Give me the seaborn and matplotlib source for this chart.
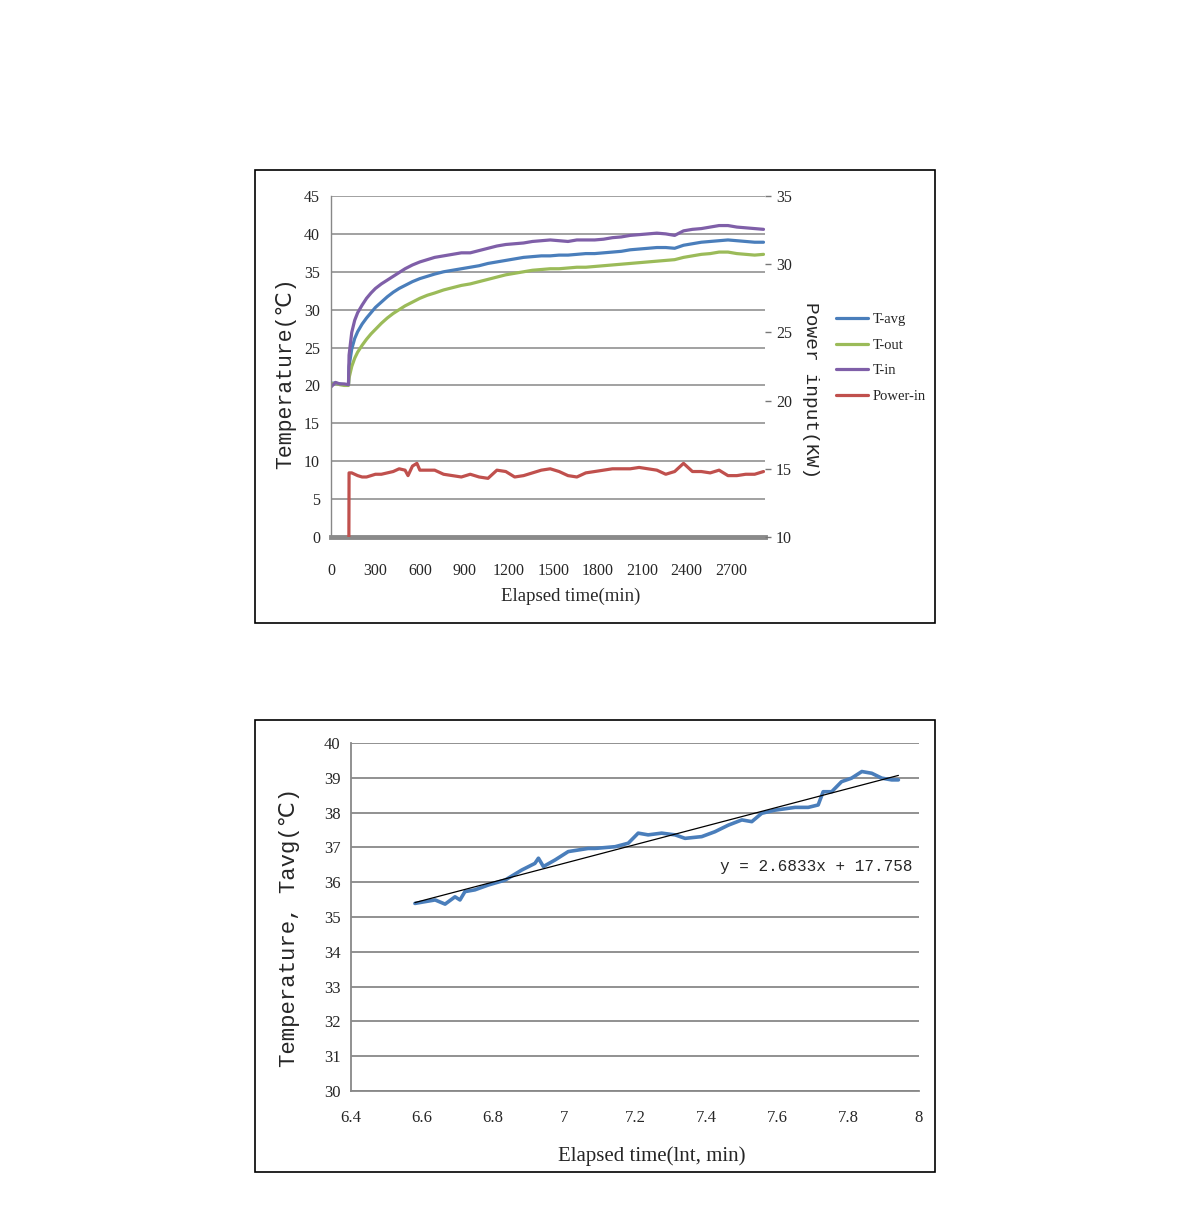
import numpy as np
import pandas as pd
import seaborn as sns
import matplotlib.pyplot as plt
from matplotlib.patches import Rectangle
from matplotlib.lines import Line2D

sns.set_style("white")
plt.rcParams['font.family'] = ['Liberation Serif', 'DejaVu Sans']

# ---- data: top chart (elapsed time, min) ----
time_min = [0, 30, 60, 90, 118, 122, 140, 160, 180, 210, 240, 270, 300, 340, 380, 420, 460, 500,
            550, 600, 650, 700, 760, 820, 880, 940, 1000, 1060, 1120, 1180, 1240, 1300, 1360, 1420,
            1480, 1540, 1600, 1660, 1720, 1780, 1840, 1900, 1960, 2020, 2080, 2140, 2200, 2260, 2320,
            2380, 2440, 2500, 2560, 2620, 2680, 2740, 2800, 2860, 2920]
t_avg = [20.3, 20.3, 20.2, 20.1, 20.1, 22.5, 24.8, 26.2, 27.1, 28.1, 28.9, 29.6, 30.3, 31.0, 31.7,
         32.3, 32.8, 33.2, 33.7, 34.1, 34.4, 34.7, 35.0, 35.2, 35.4, 35.6, 35.8, 36.1, 36.3, 36.5,
         36.7, 36.9, 37.0, 37.1, 37.1, 37.2, 37.2, 37.3, 37.4, 37.4, 37.5, 37.6, 37.7, 37.9, 38.0,
         38.1, 38.2, 38.2, 38.1, 38.5, 38.7, 38.9, 39.0, 39.1, 39.2, 39.1, 39.0, 38.9, 38.9]
t_out = [20.2, 20.3, 20.1, 20.0, 20.0, 21.0, 22.5, 23.6, 24.4, 25.3, 26.1, 26.8, 27.4, 28.2, 28.9,
         29.5, 30.0, 30.5, 31.0, 31.5, 31.9, 32.2, 32.6, 32.9, 33.2, 33.4, 33.7, 34.0, 34.3, 34.6,
         34.8, 35.0, 35.2, 35.3, 35.4, 35.4, 35.5, 35.6, 35.6, 35.7, 35.8, 35.9, 36.0, 36.1, 36.2,
         36.3, 36.4, 36.5, 36.6, 36.9, 37.1, 37.3, 37.4, 37.6, 37.6, 37.4, 37.3, 37.2, 37.3]
t_in = [19.8, 20.4, 20.2, 20.2, 20.1, 24.0, 27.0, 28.6, 29.6, 30.6, 31.5, 32.2, 32.8, 33.4, 33.9,
        34.4, 34.9, 35.4, 35.9, 36.3, 36.6, 36.9, 37.1, 37.3, 37.5, 37.5, 37.8, 38.1, 38.4, 38.6,
        38.7, 38.8, 39.0, 39.1, 39.2, 39.1, 39.0, 39.2, 39.2, 39.2, 39.3, 39.5, 39.6, 39.8, 39.9,
        40.0, 40.1, 40.0, 39.8, 40.4, 40.6, 40.7, 40.9, 41.1, 41.1, 40.9, 40.8, 40.7, 40.6]

time_power = [0, 30, 60, 90, 118, 122, 140, 160, 180, 210, 240, 270, 300, 340, 380, 420, 460, 500,
              520, 550, 580, 600, 650, 700, 760, 820, 880, 940, 1000, 1060, 1120, 1180, 1240, 1300,
              1360, 1420, 1480, 1540, 1600, 1660, 1720, 1780, 1840, 1900, 1960, 2020, 2080, 2140,
              2200, 2260, 2320, 2380, 2440, 2500, 2560, 2620, 2680, 2740, 2800, 2860, 2920]
power_in = [0, 0, 0, 0, 0, 14.7, 14.7, 14.6, 14.5, 14.4, 14.4, 14.5, 14.6, 14.6, 14.7, 14.8, 15.0,
            14.9, 14.5, 15.2, 15.4, 14.9, 14.9, 14.9, 14.6, 14.5, 14.4, 14.6, 14.4, 14.3, 14.9, 14.8,
            14.4, 14.5, 14.7, 14.9, 15.0, 14.8, 14.5, 14.4, 14.7, 14.8, 14.9, 15.0, 15.0, 15.0, 15.1,
            15.0, 14.9, 14.6, 14.8, 15.4, 14.8, 14.8, 14.7, 14.9, 14.5, 14.5, 14.6, 14.6, 14.8]

# ---- data: bottom chart (ln of elapsed time) ----
ln_time = [6.580, 6.608, 6.637, 6.665, 6.693, 6.707, 6.721, 6.749, 6.787, 6.834, 6.881, 6.918,
           6.928, 6.942, 6.975, 7.012, 7.068, 7.087, 7.144, 7.181, 7.209, 7.237, 7.275, 7.313,
           7.341, 7.388, 7.425, 7.463, 7.501, 7.529, 7.557, 7.594, 7.651, 7.688, 7.716, 7.730,
           7.754, 7.782, 7.810, 7.839, 7.867, 7.895, 7.923, 7.942]
tavg_ln = [35.39, 35.44, 35.49, 35.37, 35.58, 35.49, 35.73, 35.78, 35.92, 36.06, 36.35, 36.54,
           36.69, 36.45, 36.64, 36.88, 36.97, 36.97, 37.02, 37.12, 37.41, 37.36, 37.41, 37.36,
           37.26, 37.31, 37.45, 37.64, 37.79, 37.74, 37.98, 38.07, 38.15, 38.15, 38.22, 38.60,
           38.60, 38.89, 38.99, 39.18, 39.13, 38.99, 38.94, 38.94]
slope, intercept = 2.6833, 17.758

series_names = ['T-avg', 'T-out', 'T-in']
colors = {'T-avg': '#4a7ebb', 'T-out': '#9bbb59', 'T-in': '#7f5fa8', 'Power-in': '#c0504d'}
grid_c = '#888888'
mono = ['Liberation Mono', 'DejaVu Sans']

W, H = 1190, 1231
fig = plt.figure(figsize=(W / 100, H / 100), dpi=100)


def box(x0, y0, x1, y1):
    return [x0 / W, 1 - y1 / H, (x1 - x0) / W, (y1 - y0) / H]


# panel frames
for (x0, y0, x1, y1) in [(255, 170, 935, 623), (255, 720, 935, 1172)]:
    fig.add_artist(Rectangle((x0 / W, 1 - y1 / H), (x1 - x0) / W, (y1 - y0) / H,
                             transform=fig.transFigure, fill=False, ec='black', lw=1.2))

# ---------------- top chart ----------------
ax = fig.add_axes(box(331, 196, 765, 537))
df = pd.DataFrame({'time': time_min * 3,
                   'temp': t_avg + t_out + t_in,
                   'series': np.repeat(series_names, len(time_min))})
sns.lineplot(data=df, x='time', y='temp', hue='series', palette=colors, estimator=None,
             lw=2.3, ax=ax, legend=False)
ax.set_xlim(0, 2930)
ax.set_ylim(0, 45)
ax.set_xticks(range(0, 2701, 300))
ax.set_yticks(range(0, 46, 5))
ax.yaxis.grid(True, color=grid_c, lw=1.1)
ax.set_axisbelow(True)
for s in ['top', 'right']:
    ax.spines[s].set_visible(False)
ax.spines['left'].set_color(grid_c)
ax.spines['left'].set_linewidth(1)
ax.spines['bottom'].set_color('#8a8a8a')
ax.spines['bottom'].set_linewidth(3.5)
ax.tick_params(axis='both', length=0, labelsize=11.5, pad=8)
ax.tick_params(axis='x', pad=19)
ax.set_xlabel('Elapsed time(min)', fontsize=13.5)
ax.xaxis.set_label_coords(0.553, -0.15)
ax.set_ylabel('Temperature(℃)', fontsize=15.5, family=mono)
ax.yaxis.set_label_coords(-0.08, 0.48)

ax2 = ax.twinx()
sns.lineplot(x=time_power, y=power_in, color=colors['Power-in'], estimator=None, lw=2.3, ax=ax2)
ax2.set_ylim(10, 35)
ax2.set_yticks(range(10, 36, 5))
for s in ax2.spines.values():
    s.set_visible(False)
ax2.tick_params(axis='y', direction='out', length=4, color='#777777', width=1, labelsize=11.5, pad=4)
ax2.set_ylabel('Power input(KW)', fontsize=14, rotation=270, family=mono)
ax2.yaxis.set_label_coords(1.124, 0.43)

handles = [Line2D([], [], color=colors[k], lw=2.3) for k in series_names + ['Power-in']]
ax2.legend(handles, series_names + ['Power-in'], loc='upper left', bbox_to_anchor=(836 / W, 1 - 313 / H),
           bbox_transform=fig.transFigure, frameon=False, fontsize=10.5, handlelength=2.2,
           handletextpad=0.3, labelspacing=0.85, borderpad=0, borderaxespad=0)

# ---------------- bottom chart ----------------
bx = fig.add_axes(box(351, 743, 919, 1091))
sns.lineplot(x=ln_time, y=tavg_ln, color='#4a7ebb', estimator=None, lw=2.6, ax=bx)
x_fit = np.array([min(ln_time), max(ln_time)])
sns.lineplot(x=x_fit, y=slope * x_fit + intercept, color='black', lw=0.9, ax=bx)
bx.text(7.983, 36.45, f'y = {slope}x + {intercept}', ha='right', va='center', fontsize=11.5,
        family=mono)
bx.set_xlim(6.4, 8)
bx.set_ylim(30, 40)
bx.set_xticks(np.round(np.arange(6.4, 8.01, 0.2), 1))
bx.set_xticklabels(['6.4', '6.6', '6.8', '7', '7.2', '7.4', '7.6', '7.8', '8'])
bx.set_yticks(range(30, 41))
bx.yaxis.grid(True, color=grid_c, lw=1.3)
bx.set_axisbelow(True)
for s in ['top', 'right']:
    bx.spines[s].set_visible(False)
for s in ['left', 'bottom']:
    bx.spines[s].set_color(grid_c)
    bx.spines[s].set_linewidth(1.3)
bx.tick_params(axis='both', direction='out', length=4, color=grid_c, width=1.2, labelsize=12)
bx.tick_params(axis='x', pad=10)
bx.set_xlabel('Elapsed time(lnt, min)', fontsize=15)
bx.xaxis.set_label_coords(0.53, -0.16)
bx.set_ylabel('Temperature, Tavg(℃)', fontsize=16, family=mono)
bx.yaxis.set_label_coords(-0.089, 0.47)

plt.savefig('out.png', dpi=100)
